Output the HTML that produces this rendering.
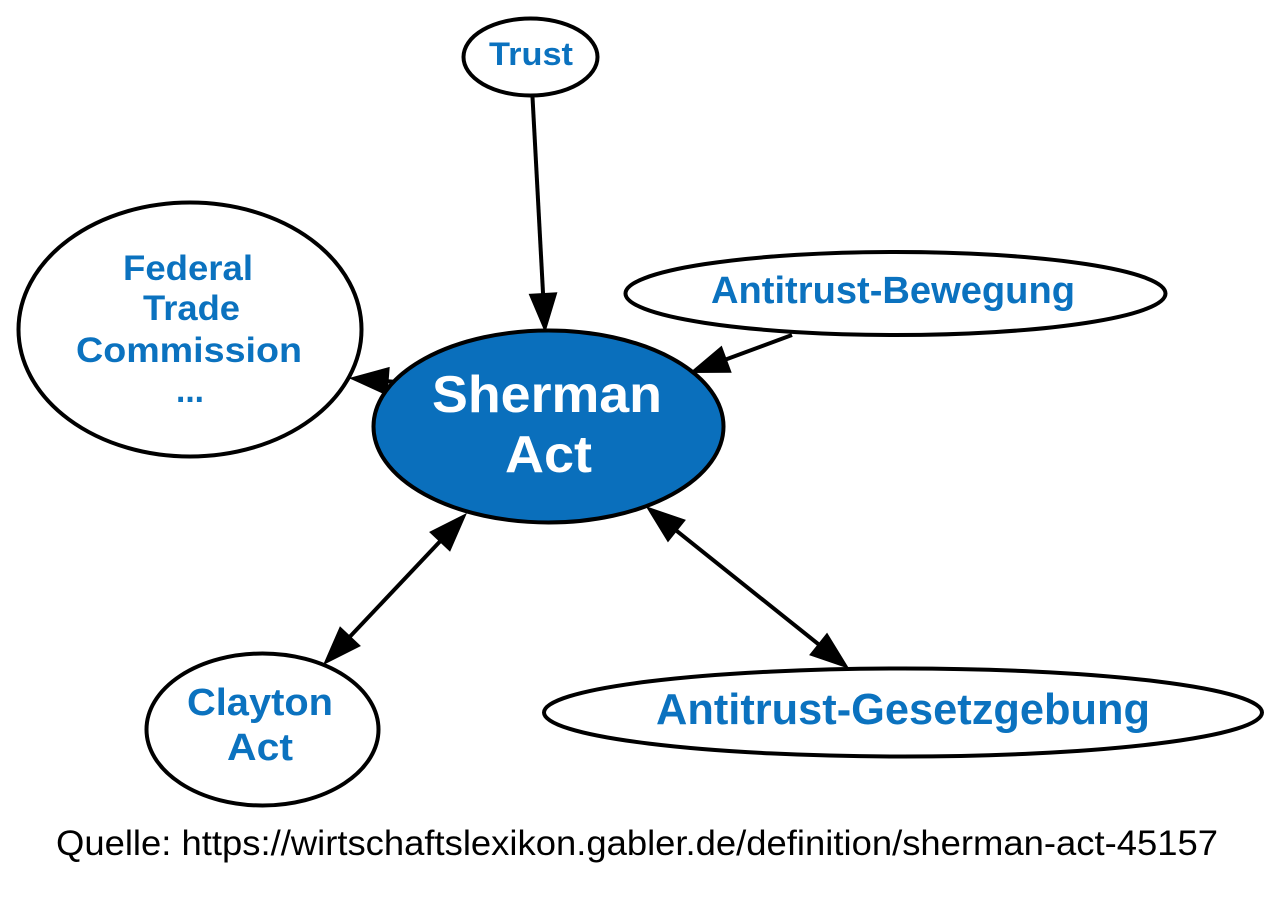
<!DOCTYPE html>
<html>
<head>
<meta charset="utf-8">
<style>
html,body{margin:0;padding:0;background:#ffffff;}
svg{display:block;}
text{font-family:"Liberation Sans",Arial,sans-serif;}
.lbl{fill:#0b72bf;font-weight:bold;}
</style>
</head>
<body>
<svg width="1280" height="903" viewBox="0 0 1280 903" xmlns="http://www.w3.org/2000/svg">
<rect width="1280" height="903" fill="#ffffff"/>

<!-- Edges -->
<g stroke="#000" stroke-width="4" fill="none">
  <line x1="532.5" y1="97" x2="543.07" y2="294.05"/>
  <line x1="792" y1="335" x2="725.77" y2="359.51"/>
  <line x1="440.26" y1="541.17" x2="349.74" y2="636.83"/>
  <line x1="676.13" y1="530.47" x2="818.87" y2="644.53"/>
  <line x1="387.6" y1="381.2" x2="400" y2="382.2"/>
</g>
<g fill="#000" stroke="#000" stroke-width="2" stroke-linejoin="miter">
  <polygon points="545,330 530.09,294.75 556.05,293.35"/>
  <polygon points="692,372 721.26,347.32 730.28,371.70"/>
  <polygon points="351.7,378.3 388.6,368.2 386.6,394.2"/>
  <polygon points="465,515 449.71,550.10 430.81,532.24"/>
  <polygon points="325,663 359.19,645.76 340.29,627.90"/>
  <polygon points="847,667 810.76,654.68 826.98,634.38"/>
  <polygon points="648,508 668.02,540.62 684.24,520.32"/>
</g>

<!-- Nodes -->
<g stroke="#000" stroke-width="4">
  <ellipse cx="530.5" cy="57" rx="67" ry="38.5" fill="#fff"/>
  <ellipse cx="190" cy="329.5" rx="171.5" ry="127" fill="#fff"/>
  <ellipse cx="895.5" cy="293.5" rx="270" ry="41.5" fill="#fff"/>
  <ellipse cx="262.5" cy="729.5" rx="116" ry="76" fill="#fff"/>
  <ellipse cx="903" cy="712.5" rx="359" ry="44" fill="#fff"/>
  <ellipse cx="548.5" cy="426.5" rx="175" ry="96" fill="#0a6fbc"/>
</g>

<!-- Labels -->
<text class="lbl" x="489" y="65" font-size="32" textLength="84" lengthAdjust="spacingAndGlyphs">Trust</text>

<text class="lbl" x="123" y="280" font-size="35" textLength="130" lengthAdjust="spacingAndGlyphs">Federal</text>
<text class="lbl" x="143" y="320" font-size="35" textLength="97" lengthAdjust="spacingAndGlyphs">Trade</text>
<text class="lbl" x="76" y="362" font-size="35" textLength="226" lengthAdjust="spacingAndGlyphs">Commission</text>
<text class="lbl" x="176" y="402" font-size="35" textLength="28" lengthAdjust="spacingAndGlyphs">...</text>

<text class="lbl" x="711" y="303" font-size="38" textLength="364" lengthAdjust="spacingAndGlyphs">Antitrust-Bewegung</text>

<text x="432" y="412" font-size="52" font-weight="bold" fill="#ffffff" textLength="230" lengthAdjust="spacingAndGlyphs">Sherman</text>
<text x="505" y="472" font-size="52" font-weight="bold" fill="#ffffff" textLength="87" lengthAdjust="spacingAndGlyphs">Act</text>

<text class="lbl" x="187" y="715" font-size="38" textLength="146" lengthAdjust="spacingAndGlyphs">Clayton</text>
<text class="lbl" x="227" y="760" font-size="38" textLength="66" lengthAdjust="spacingAndGlyphs">Act</text>

<text class="lbl" x="656" y="724" font-size="44" textLength="494" lengthAdjust="spacingAndGlyphs">Antitrust-Gesetzgebung</text>

<text x="56" y="855" font-size="35" fill="#000" textLength="1162" lengthAdjust="spacingAndGlyphs">Quelle: https://wirtschaftslexikon.gabler.de/definition/sherman-act-45157</text>
</svg>
</body>
</html>
